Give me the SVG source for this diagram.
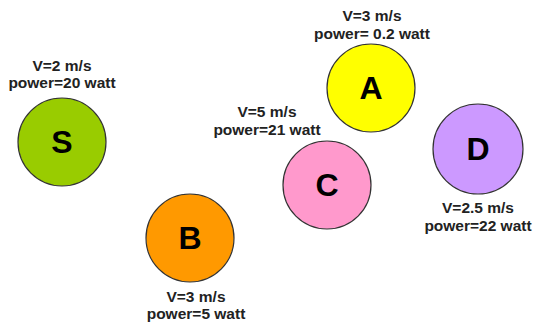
<svg xmlns="http://www.w3.org/2000/svg" width="541" height="322" viewBox="0 0 541 322">
<style>
.c{stroke:#333;stroke-width:1.2}
.l{font-family:"Liberation Sans",Arial,sans-serif;font-weight:bold;font-size:32px;text-anchor:middle;fill:#000}
.t{font-family:"Liberation Sans",Arial,sans-serif;font-weight:bold;font-size:15.5px;text-anchor:middle;fill:#222}
</style>
<rect width="541" height="322" fill="#fff"/>
<g id="connectors"></g>
<g id="node-S">
<circle class="c" cx="62" cy="142" r="44" fill="#99cc00"/>
<text class="l" x="62" y="153">S</text>
<text class="t" x="62" y="71">V=2 m/s</text>
<text class="t" x="62" y="88">power=20 watt</text>
</g>
<g id="node-A">
<circle class="c" cx="371" cy="88" r="44" fill="#ffff00"/>
<text class="l" x="371" y="99">A</text>
<text class="t" x="372" y="21">V=3 m/s</text>
<text class="t" x="372" y="39">power= 0.2 watt</text>
</g>
<g id="node-C">
<circle class="c" cx="327" cy="185" r="44" fill="#ff99cc"/>
<text class="l" x="327" y="196">C</text>
<text class="t" x="267" y="117">V=5 m/s</text>
<text class="t" x="267" y="135">power=21 watt</text>
</g>
<g id="node-B">
<circle class="c" cx="190" cy="238" r="44" fill="#ff9900"/>
<text class="l" x="190" y="249">B</text>
<text class="t" x="196" y="302">V=3 m/s</text>
<text class="t" x="196" y="319">power=5 watt</text>
</g>
<g id="node-D">
<circle class="c" cx="478" cy="149" r="45" fill="#cc99ff"/>
<text class="l" x="478" y="160">D</text>
<text class="t" x="478" y="213">V=2.5 m/s</text>
<text class="t" x="478" y="231">power=22 watt</text>
</g>
</svg>
